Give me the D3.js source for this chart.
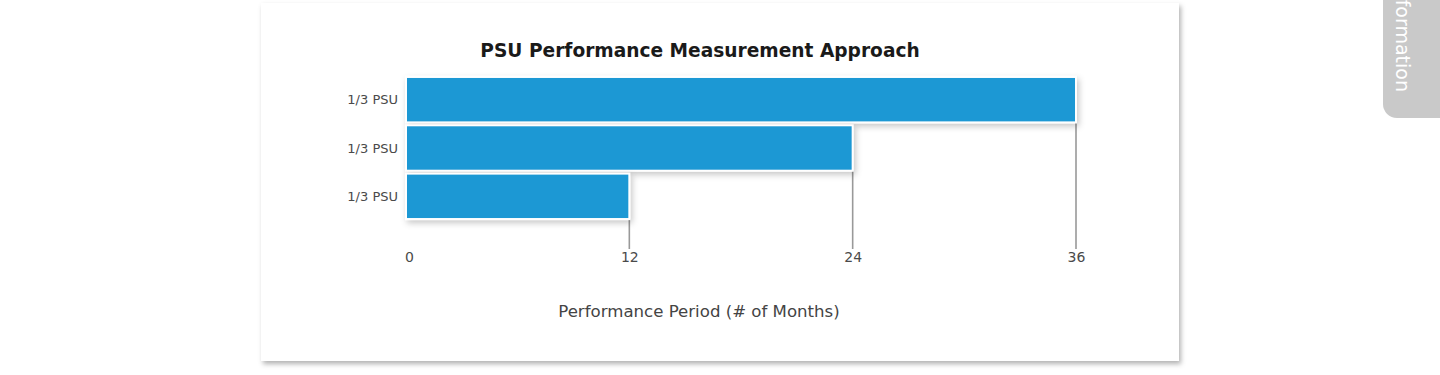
<!DOCTYPE html>
<html>
<head>
<meta charset="utf-8">
<script src="https://cdn.jsdelivr.net/npm/d3@7"></script>
<style>
  html, body { margin: 0; padding: 0; background: #fff; }
  svg { display: block; }
  text { font-family: "Century Gothic", "DejaVu Sans", sans-serif; }
</style>
</head>
<body>
<svg id="chart" width="1440" height="375"></svg>
<script>
// chart data
var categories = ['1/3 PSU', '1/3 PSU', '1/3 PSU'];
var months = [36, 24, 12];
var tickValues = [0, 12, 24, 36];
var title = 'PSU Performance Measurement Approach';
var xTitle = 'Performance Period (# of Months)';
var sideTab = 'Information';

var svg = d3.select('#chart');

// drop shadows for the card and the bars
var defs = svg.append('defs');
var cardShadow = defs.append('filter').attr('id', 'card-shadow')
  .attr('x', '-5%').attr('y', '-5%').attr('width', '110%').attr('height', '115%');
cardShadow.append('feDropShadow')
  .attr('dx', 2).attr('dy', 3).attr('stdDeviation', 2.5)
  .attr('flood-color', '#000').attr('flood-opacity', 0.3);
var barShadow = defs.append('filter').attr('id', 'bar-shadow')
  .attr('x', '-5%').attr('y', '-20%').attr('width', '110%').attr('height', '150%');
barShadow.append('feDropShadow')
  .attr('dx', 2).attr('dy', 3).attr('stdDeviation', 3)
  .attr('flood-color', '#000').attr('flood-opacity', 0.22);

// side tab on the right edge (its top runs off the window, as in the page)
var tab = svg.append('g');
tab.append('rect')
  .attr('x', 1383).attr('y', -20).attr('width', 90).attr('height', 138)
  .attr('rx', 14).attr('fill', '#c9c9c9');
tab.append('text')
  .attr('transform', 'translate(1396,92) rotate(90)')
  .attr('text-anchor', 'end')
  .attr('font-size', 19)
  .attr('fill', '#fff')
  .text(sideTab);

// white card
svg.append('rect')
  .attr('x', 261).attr('y', 3).attr('width', 918).attr('height', 358)
  .attr('fill', '#fff')
  .attr('filter', 'url(#card-shadow)');

var x = d3.scaleLinear().domain([0, 36]).range([406, 1076]);
var y = d3.scaleBand()
  .domain(d3.range(categories.length))
  .range([76, 220])
  .paddingInner(0.06)
  .paddingOuter(0.02);

svg.append('text')
  .attr('x', 700).attr('y', 57)
  .attr('text-anchor', 'middle')
  .attr('font-size', 18.6)
  .attr('font-weight', 'bold')
  .attr('fill', '#1a1a1a')
  .text(title);

// grey drop lines from each bar end down to the axis labels
var axisY = 249;
svg.append('g').selectAll('line')
  .data(months)
  .join('line')
  .attr('x1', function (d) { return x(d); })
  .attr('x2', function (d) { return x(d); })
  .attr('y1', function (d, i) { return y(i) + y.bandwidth(); })
  .attr('y2', axisY)
  .attr('stroke', '#999')
  .attr('stroke-width', 1.6);

svg.append('g').selectAll('rect')
  .data(months)
  .join('rect')
  .attr('x', x(0))
  .attr('y', function (d, i) { return y(i); })
  .attr('width', function (d) { return x(d) - x(0); })
  .attr('height', y.bandwidth())
  .attr('fill', '#1e98d4')
  .attr('stroke', '#fff')
  .attr('stroke-width', 2)
  .attr('filter', 'url(#bar-shadow)');

// category labels
svg.append('g').selectAll('text')
  .data(categories)
  .join('text')
  .attr('x', 398)
  .attr('y', function (d, i) { return y(i) + y.bandwidth() / 2; })
  .attr('text-anchor', 'end')
  .attr('dominant-baseline', 'central')
  .attr('font-size', 13)
  .attr('fill', '#4a4a4a')
  .text(function (d) { return d; });

// x axis tick labels, no domain line
var xAxis = svg.append('g')
  .attr('transform', 'translate(0,' + axisY + ')')
  .call(d3.axisBottom(x).tickValues(tickValues).tickSize(0).tickPadding(3));
xAxis.select('.domain').remove();
xAxis.selectAll('text')
  .attr('font-size', 14)
  .attr('fill', '#4a4a4a')
  .style('font-family', '"Century Gothic", "DejaVu Sans", sans-serif');
xAxis.selectAll('.tick').filter(function (d) { return d === 0; })
  .select('text').attr('dx', 3);

svg.append('text')
  .attr('x', 699).attr('y', 317)
  .attr('text-anchor', 'middle')
  .attr('font-size', 16.6)
  .attr('fill', '#444')
  .text(xTitle);
</script>
</body>
</html>
